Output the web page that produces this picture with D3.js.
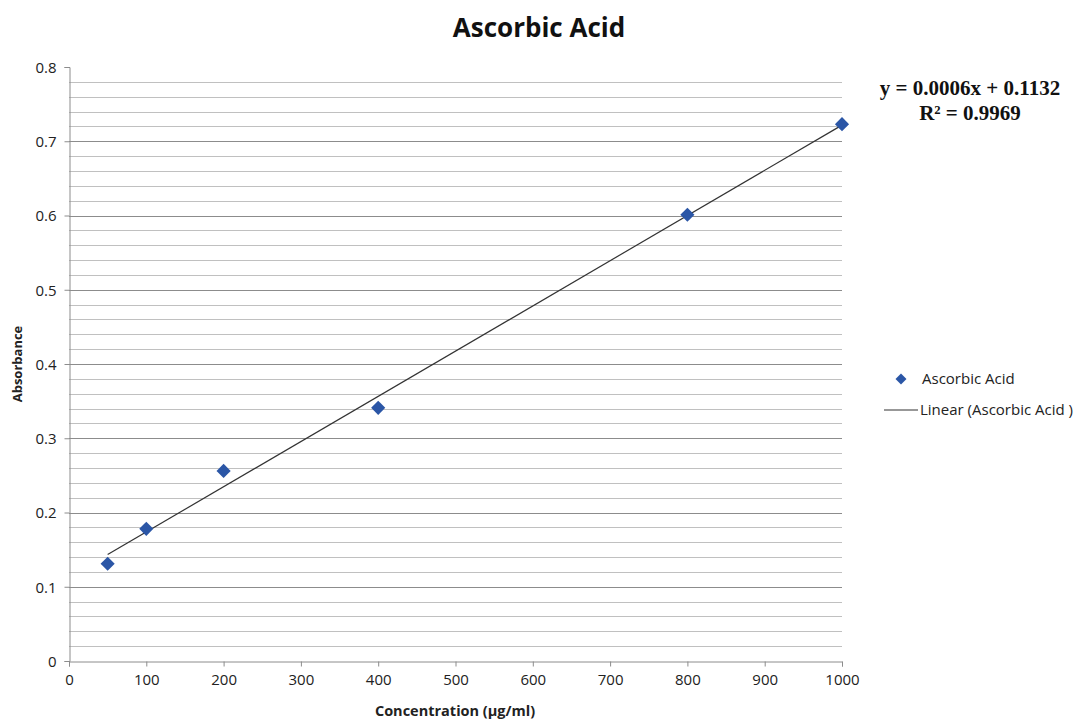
<!DOCTYPE html>
<html>
<head>
<meta charset="utf-8">
<script src="https://cdn.jsdelivr.net/npm/d3@7"></script>
<style>
  body { margin: 0; background: #fff; }
  text { font-family: "Open Sans", sans-serif; }
  .tick text { fill: #222; font-size: 15px; }
</style>
</head>
<body>
<div id="chart"></div>
<script>
// data
var concentration = [50, 100, 200, 400, 800, 1000]
var absorbance = [0.131, 0.178, 0.256, 0.341, 0.601, 0.723]
var xTicks = [0, 100, 200, 300, 400, 500, 600, 700, 800, 900, 1000]
var yTicks = [0, 0.1, 0.2, 0.3, 0.4, 0.5, 0.6, 0.7, 0.8]
var equationLines = ['y = 0.0006x + 0.1132', 'R\u00b2 = 0.9969']

var width = 1077
var height = 719
var margin = {left: 69, right: 235, top: 67, bottom: 58}
var blue = '#2b56a6'

var svg = d3.select('#chart').append('svg')
  .attr('width', width)
  .attr('height', height)

var x = d3.scaleLinear().domain([0, 1000]).range([margin.left, width - margin.right])
var y = d3.scaleLinear().domain([0, 0.8]).range([height - margin.bottom, margin.top])

// minor gridlines every 0.02
var minor = d3.range(1, 40).map(function (i) { return i * 0.02 })
svg.append('g').selectAll('line')
  .data(minor)
  .enter().append('line')
  .attr('x1', x(0)).attr('x2', x(1000))
  .attr('y1', function (d) { return Math.round(y(d)) + 0.5 })
  .attr('y2', function (d) { return Math.round(y(d)) + 0.5 })
  .attr('stroke', function (d, i) { return (i + 1) % 5 == 0 ? '#8c8c8c' : '#c0c0c0' })
  .attr('stroke-width', 1)

// axes
var xAxis = svg.append('g')
  .attr('transform', 'translate(0,' + (Math.round(y(0)) + 0.5) + ')')
  .call(d3.axisBottom(x).tickValues(xTicks).tickSize(5).tickPadding(8).tickFormat(d3.format('d')))
var yAxis = svg.append('g')
  .attr('transform', 'translate(' + (Math.round(x(0)) + 0.5) + ',0)')
  .call(d3.axisLeft(y).tickValues(yTicks).tickSize(5).tickPadding(8).tickFormat(function (d) { return d == 0 ? '0' : d3.format('.1f')(d) }))
svg.selectAll('.domain, .tick line').attr('stroke', '#8c8c8c')
yAxis.selectAll('.tick text').attr('dy', '0.35em')

// least squares trend line
var mx = d3.mean(concentration), my = d3.mean(absorbance)
var sxy = d3.sum(concentration, function (c, i) { return (c - mx) * (absorbance[i] - my) })
var sxx = d3.sum(concentration, function (c) { return (c - mx) * (c - mx) })
var slope = sxy / sxx
var intercept = my - slope * mx
var xmin = d3.min(concentration), xmax = d3.max(concentration)
svg.append('line')
  .attr('x1', x(xmin)).attr('y1', y(intercept + slope * xmin))
  .attr('x2', x(xmax)).attr('y2', y(intercept + slope * xmax))
  .attr('stroke', '#333')
  .attr('stroke-width', 1.2)

// diamond points
var diamond = d3.symbol().type(d3.symbolSquare).size(100)
svg.append('g').selectAll('path')
  .data(concentration)
  .enter().append('path')
  .attr('d', diamond)
  .attr('transform', function (d, i) { return 'translate(' + x(d) + ',' + y(absorbance[i]) + ') rotate(45)' })
  .attr('fill', blue)

// title
svg.append('text')
  .attr('x', 539).attr('y', 37)
  .attr('text-anchor', 'middle')
  .attr('font-size', '26px').attr('font-weight', 'bold')
  .attr('fill', '#111')
  .text('Ascorbic Acid')

// axis labels
svg.append('text')
  .attr('x', 455).attr('y', 716)
  .attr('text-anchor', 'middle')
  .attr('font-size', '14.5px').attr('font-weight', 'bold')
  .attr('fill', '#222')
  .text('Concentration (\u00b5g/ml)')

svg.append('text')
  .attr('transform', 'translate(22,364) rotate(-90)')
  .attr('text-anchor', 'middle')
  .attr('font-size', '13px').attr('font-weight', 'bold')
  .attr('fill', '#222')
  .text('Absorbance')

// equation
svg.append('g').selectAll('text')
  .data(equationLines)
  .enter().append('text')
  .attr('x', 970)
  .attr('y', function (d, i) { return 95 + i * 25 })
  .attr('text-anchor', 'middle')
  .style('font-family', '"Liberation Serif", serif')
  .attr('font-size', '21px').attr('font-weight', 'bold')
  .attr('fill', '#111')
  .text(function (d) { return d })

// legend
var legend = svg.append('g')
legend.append('path')
  .attr('d', d3.symbol().type(d3.symbolSquare).size(60))
  .attr('transform', 'translate(901,379) rotate(45)')
  .attr('fill', blue)
legend.append('text')
  .attr('x', 922).attr('y', 384)
  .attr('font-size', '15px').attr('fill', '#222')
  .text('Ascorbic Acid')
legend.append('line')
  .attr('x1', 884).attr('x2', 918)
  .attr('y1', 410).attr('y2', 410)
  .attr('stroke', '#333').attr('stroke-width', 1.2)
legend.append('text')
  .attr('x', 920).attr('y', 415)
  .attr('font-size', '15px').attr('fill', '#222')
  .text('Linear (Ascorbic Acid )')
</script>
</body>
</html>
